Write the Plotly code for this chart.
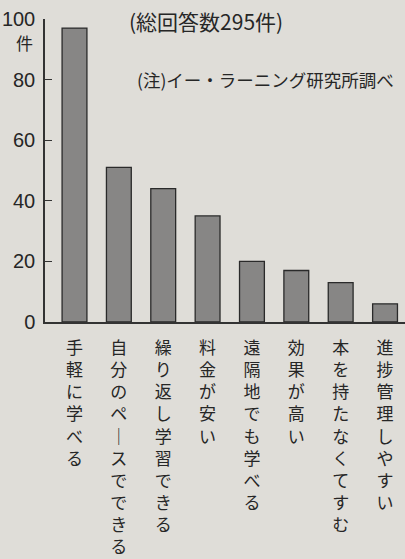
import plotly.graph_objects as go

categories = ["手軽に学べる", "自分のペースでできる", "繰り返し学習できる", "料金が安い",
              "遠隔地でも学べる", "効果が高い", "本を持たなくてすむ", "進捗管理しやすい"]
values = [97, 51, 44, 35, 20, 17, 13, 6]
y_ticks = [0, 20, 40, 60, 80, 100]
title_text = "(総回答数295件)"
note_text = "(注)イー・ラーニング研究所調べ"
unit_text = "件"

def vertical(s):
    return "<br>".join("｜" if ch == "ー" else ch for ch in s)

idx = list(range(len(categories)))
BG = "#dfddd8"
INK = "#262626"
CJK = "Noto Sans CJK JP"
NUM = "Liberation Sans Narrow, Liberation Sans, Arial"

fig = go.Figure(go.Bar(
    x=idx, y=values, width=0.56,
    marker=dict(color="#878685", line=dict(color="#2a2a2a", width=1.3)),
    hoverinfo="skip",
))

fig.update_layout(
    width=405, height=559,
    margin=dict(l=45, r=0, t=19, b=237),
    paper_bgcolor=BG, plot_bgcolor=BG,
    showlegend=False,
    xaxis=dict(
        range=[-0.665, 7.45], tickmode="array", tickvals=idx,
        ticktext=[vertical(c) for c in categories],
        tickfont=dict(family=CJK, size=17, color=INK),
        ticks="", showgrid=False, zeroline=False,
        showline=True, linecolor="#333333", linewidth=1.5,
        tickangle=0, fixedrange=True, ticklabelstandoff=10,
    ),
    yaxis=dict(
        range=[0, 100], tickmode="array", tickvals=y_ticks,
        tickfont=dict(family=NUM, size=20, color=INK),
        ticks="inside", ticklen=7, tickcolor="#333333", tickwidth=1.2,
        showgrid=False, zeroline=False,
        showline=True, linecolor="#333333", linewidth=1.5,
        ticklabelstandoff=4, fixedrange=True,
    ),
    annotations=[
        dict(text=unit_text, xref="paper", yref="paper", x=-0.056, y=0.924,
             xanchor="center", yanchor="middle", showarrow=False,
             font=dict(family=CJK, size=17, color=INK)),
        dict(text=title_text, xref="paper", yref="paper", x=0.447, y=0.993,
             xanchor="center", yanchor="middle", showarrow=False,
             font=dict(family=CJK, size=21, color=INK)),
        dict(text=note_text, xref="paper", yref="paper", x=0.25, y=0.799,
             xanchor="left", yanchor="middle", showarrow=False,
             font=dict(family=CJK, size=17.5, color=INK)),
    ],
)

fig.write_html("out.html", config={"displayModeBar": False},
               post_script="document.body.style.margin='0';document.body.style.overflow='hidden';")
